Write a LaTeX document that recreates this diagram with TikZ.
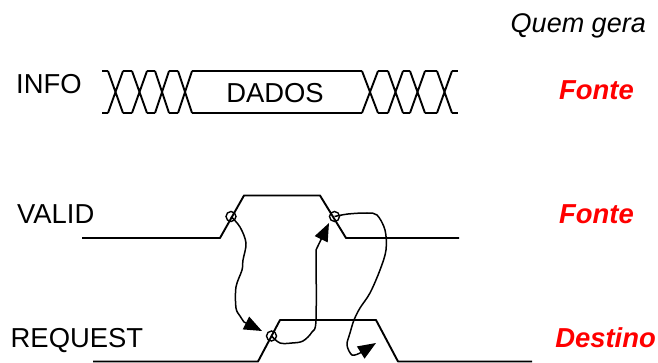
\documentclass[tikz,border=0pt]{standalone}
\usepackage{fontspec}
\setmainfont{Liberation Sans}
\usetikzlibrary{arrows.meta}
\definecolor{srcred}{RGB}{255,0,0}
\tikzset{
  sig/.style={draw=black,line width=1.9pt,line join=round},
  wire/.style={draw=black,line width=1.5pt,line join=round},
  head/.style={-{Triangle[length=18pt,width=14pt]}},
  lbl/.style={inner sep=0pt,font=\fontsize{27.4}{30}\selectfont,text=black},
  who/.style={inner sep=0pt,font=\fontsize{27.4}{30}\selectfont\bfseries\itshape,text=srcred},
  ring/.style={circle,draw=black,line width=1.4pt,minimum size=10pt,inner sep=0pt}
}
\newcommand{\crossing}[2]{%
  \draw[sig] (#1,71) -- (#2,113) (#1,113) -- (#2,71);}
\begin{document}
\begin{tikzpicture}[x=1pt,y=-1pt]
\useasboundingbox (0,0) rectangle (658,363);
% INFO bus
\foreach \a/\b in {102/108,123/132,147/155,169/178,192/362,378/388,403/410,425/437,452/458}{
  \draw[sig] (\a,71) -- (\b,71) (\a,113) -- (\b,113);}
\crossing{108}{123}
\crossing{132}{147}
\crossing{155}{169}
\crossing{178}{192}
\crossing{362}{378}
\crossing{388}{403}
\crossing{410}{425}
\crossing{437}{452}
% VALID and REQUEST
\draw[sig] (82,238) -- (220,238) -- (244,195.5) -- (320,195.5) -- (346,238) -- (459,238);
\draw[sig] (93,361.5) -- (258,361.5) -- (280,320) -- (376,320) -- (398,361.5) -- (532,361.5);
% labels
\node[lbl,anchor=base west] (tinfo) at (16,94) {INFO};
\node[lbl,anchor=base] (tdados) at (275,103) {DADOS};
\node[lbl,anchor=base west] (tvalid) at (17,224) {VALID};
\node[lbl,anchor=base west] (treq) at (10.5,347) {REQUEST};
\node[lbl,anchor=base east,font=\fontsize{27}{30}\selectfont\itshape] (tquem) at (646,33) {Quem gera};
\node[who,anchor=base east] (w1) at (634,100) {Fonte};
\node[who,anchor=base east] (w2) at (634,224) {Fonte};
\node[who,anchor=base east] (w3) at (656,347) {Destino};
% handshake rings
\node[ring] (r1) at (231,216.5) {};
\node[ring] (r2) at (334.5,216.5) {};
\node[ring] (r3) at (271.5,336) {};
\coordinate (t1) at (262,331);
\coordinate (t2) at (329,223);
\coordinate (t3) at (376,343);
% causal arrows
\draw[wire,head] plot[smooth,tension=0.55] coordinates {(r1.center) (240,227) (246,243) (243,260) (242,270) (236,287) (236,308) (240,316) (244,322)} -- (t1);
\draw[wire,head] plot[smooth,tension=0.55] coordinates {(r3.center) (280,343) (292,343) (303,341) (312,332) (316,320) (316,250)} -- (t2);
\draw[wire,head] plot[smooth,tension=0.55] coordinates {(r2.center) (348,214) (367,213) (377,215) (385,230) (386,250) (380,270) (370,293) (360,308) (354,320) (350,333) (347,345) (352,355) (360,353)} -- (t3);
\end{tikzpicture}
\end{document}
